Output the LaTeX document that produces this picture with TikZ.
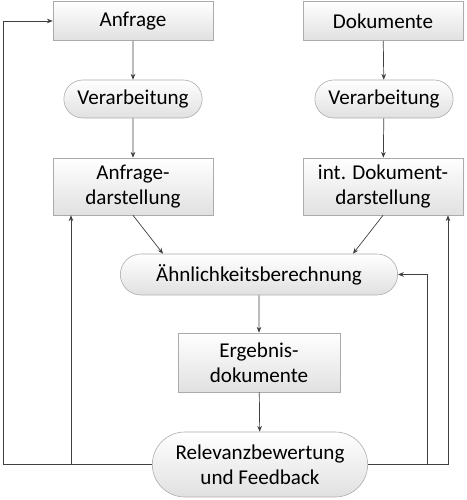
\documentclass[tikz,border=0pt]{standalone}
\usepackage{fontspec}
\setmainfont{Carlito}
\usepackage{xcolor}
\usepackage{tikz}
\usetikzlibrary{calc, shapes.misc, positioning, arrows.meta}

\definecolor{randgrau}{HTML}{ABABAB}
\definecolor{liniengrau}{HTML}{404040}

\begin{document}
\begin{tikzpicture}[>={Stealth[length=5pt,width=4pt]}, scale=1,
    kasten/.style={rectangle, draw=randgrau, line width=0.5pt,
        top color=white, bottom color=black!12, inner sep=2pt,
        minimum width=4.8cm, align=center, font=\fontsize{18}{21.5}\selectfont},
    pille/.style={rounded rectangle, draw=randgrau, line width=0.5pt,
        top color=white, bottom color=black!12, inner sep=2pt,
        align=center, font=\fontsize{18}{21.5}\selectfont},
    pfeil/.style={->, draw=liniengrau, line width=0.6pt}]

    % =================================================================
    % 1. RAHMEN UND HILFSPUNKTE FUER DIE RUECKKOPPLUNG
    % =================================================================
    \useasboundingbox (0,0) rectangle (14.01,15);
    \coordinate (fbA) at (0.09,0);
    \coordinate (fbB) at (2.13,0);
    \coordinate (fbC) at (12.81,0);
    \coordinate (fbD) at (13.44,0);

    % =================================================================
    % 2. KNOTEN (linke Spalte, rechte Spalte, Mitte)
    % =================================================================
    \node[kasten, minimum height=1.17cm] (anfrage) at (3.99,14.37) {Anfrage};
    \node[kasten, minimum height=1.17cm] (dokumente) at (11.49,14.37) {Dokumente};

    \node[pille, minimum width=4.29cm, minimum height=1.14cm] (verarbL) at (3.99,12.03) {Verarbeitung};
    \node[pille, minimum width=4.29cm, minimum height=1.14cm] (verarbR) at (11.52,12.03) {Verarbeitung};

    \node[kasten, minimum height=1.71cm] (anfrdar) at (3.99,9.405) {Anfrage-\\darstellung};
    \node[kasten, minimum height=1.71cm] (intdok) at (11.49,9.405) {int. Dokument-\\darstellung};

    \node[pille, minimum width=8.46cm, minimum height=1.23cm] (aehnl) at (7.77,6.765) {Ähnlichkeitsberechnung};

    \node[kasten, minimum width=4.86cm, minimum height=1.77cm] (ergebnis) at (7.77,4.125) {Ergebnis-\\dokumente};

    \node[pille, minimum width=6.6cm, minimum height=1.95cm] (relevanz) at (7.8,1.065) {Relevanzbewertung\\und Feedback};

    % =================================================================
    % 3. PFEILE DES HAUPTABLAUFS
    % =================================================================
    \draw[pfeil] (anfrage) -- (verarbL);
    \draw[pfeil] (verarbL) -- (anfrdar);
    \draw[pfeil] (dokumente) -- (verarbR);
    \draw[pfeil] (verarbR) -- (intdok);
    \draw[pfeil] (anfrdar.south) -- ([xshift=-2.88cm]aehnl.north);
    \draw[pfeil] (intdok.south) -- ([xshift=2.82cm]aehnl.north);
    \draw[pfeil] (aehnl) -- (ergebnis);
    \draw[pfeil] (ergebnis) -- (relevanz);

    % =================================================================
    % 4. RUECKKOPPLUNG (links und rechts)
    % =================================================================
    \draw[pfeil] (relevanz.west) -- (relevanz.west -| fbA) |- (anfrage.west);
    \draw[pfeil] (relevanz.west -| fbB) -- (anfrdar.south -| fbB);
    \draw[pfeil] (relevanz.east) -- (relevanz.east -| fbD) -- (intdok.south -| fbD);
    \draw[pfeil] (relevanz.east -| fbC) |- (aehnl.east);

\end{tikzpicture}
\end{document}
